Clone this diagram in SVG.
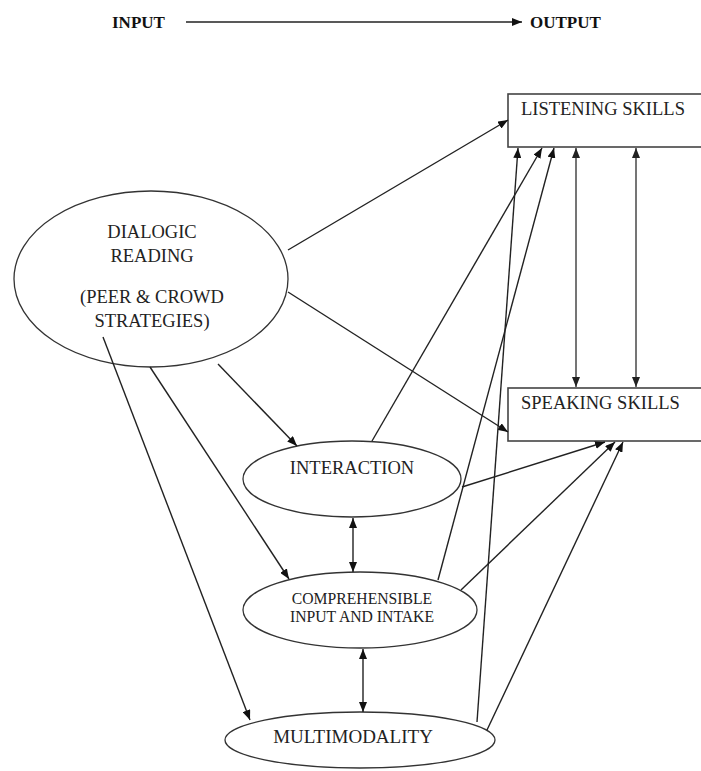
<svg xmlns="http://www.w3.org/2000/svg" width="701" height="771" viewBox="0 0 701 771">
<defs>
<marker id="ah" markerUnits="userSpaceOnUse" markerWidth="10" markerHeight="8" refX="10" refY="4" orient="auto-start-reverse">
<path d="M0,0 L10,4 L0,8 z" fill="#111"/>
</marker>
<marker id="ahg" markerUnits="userSpaceOnUse" markerWidth="10" markerHeight="8" refX="10" refY="4" orient="auto-start-reverse">
<path d="M0,0 L10,4 L0,8 z" fill="#222"/>
</marker>
</defs>
<style>
text{font-family:"Liberation Serif","Times New Roman",serif;fill:#222;}
.t{font-size:18.5px;}
.m{font-size:19px;}
.s{font-size:15.7px;}
.b{font-size:17px;font-weight:bold;fill:#111;}
.e{fill:#fff;stroke:#333;stroke-width:1.3;}
.r{fill:#fff;stroke:#444;stroke-width:1.6;}
.c line{stroke:#222;stroke-width:1.4;marker-end:url(#ah);}
.c line.d{marker-start:url(#ah);}
.c line.g{stroke:#666;stroke-width:1.8;marker-start:url(#ahg);marker-end:url(#ahg);}
</style>
<rect width="701" height="771" fill="#fff"/>
<g id="title">
<text class="b" x="112" y="28">INPUT</text>
<text class="b" x="530" y="28">OUTPUT</text>
</g>
<g id="listening">
<rect class="r" x="508" y="94" width="210" height="53"/>
<text class="t" x="521" y="115">LISTENING SKILLS</text>
</g>
<g id="speaking">
<rect class="r" x="508" y="388" width="210" height="53"/>
<text class="t" x="521" y="409">SPEAKING SKILLS</text>
</g>
<g id="dialogic">
<ellipse class="e" cx="151" cy="279" rx="137" ry="88"/>
<text class="t" x="152" y="238" text-anchor="middle">DIALOGIC</text>
<text class="t" x="152" y="262" text-anchor="middle">READING</text>
<text class="t" x="152" y="303" text-anchor="middle">(PEER &amp; CROWD</text>
<text class="t" x="152" y="327" text-anchor="middle">STRATEGIES)</text>
</g>
<g id="interaction">
<ellipse class="e" cx="352" cy="479" rx="109" ry="38"/>
<text class="t" x="352" y="474" text-anchor="middle">INTERACTION</text>
</g>
<g id="comprehensible">
<ellipse class="e" cx="360" cy="610" rx="117" ry="38"/>
<text class="s" x="362" y="604" text-anchor="middle">COMPREHENSIBLE</text>
<text class="s" x="362" y="622" text-anchor="middle">INPUT AND INTAKE</text>
</g>
<g id="multimodality">
<ellipse class="e" cx="360" cy="740" rx="135" ry="28"/>
<text class="m" x="353" y="743" text-anchor="middle">MULTIMODALITY</text>
</g>
<g id="connectors" class="c">
<line x1="186" y1="22" x2="522" y2="22"/>
<line x1="288" y1="250" x2="508" y2="120"/>
<line x1="288" y1="292" x2="508" y2="432"/>
<line x1="218" y1="364" x2="297" y2="446"/>
<line x1="150" y1="367" x2="289" y2="579"/>
<line x1="103" y1="337" x2="250" y2="720"/>
<line x1="372" y1="441" x2="542" y2="148"/>
<line x1="438" y1="580" x2="554" y2="148"/>
<line x1="477" y1="722" x2="518" y2="148"/>
<line x1="462" y1="487" x2="605" y2="442"/>
<line x1="461" y1="590" x2="615" y2="442"/>
<line x1="487" y1="730" x2="623" y2="442"/>
<line class="d" x1="353" y1="518" x2="353" y2="572"/>
<line class="d" x1="363" y1="649" x2="363" y2="712"/>
<line class="g" x1="576" y1="148" x2="576" y2="387"/>
<line class="g" x1="636" y1="148" x2="636" y2="387"/>
</g>
</svg>
